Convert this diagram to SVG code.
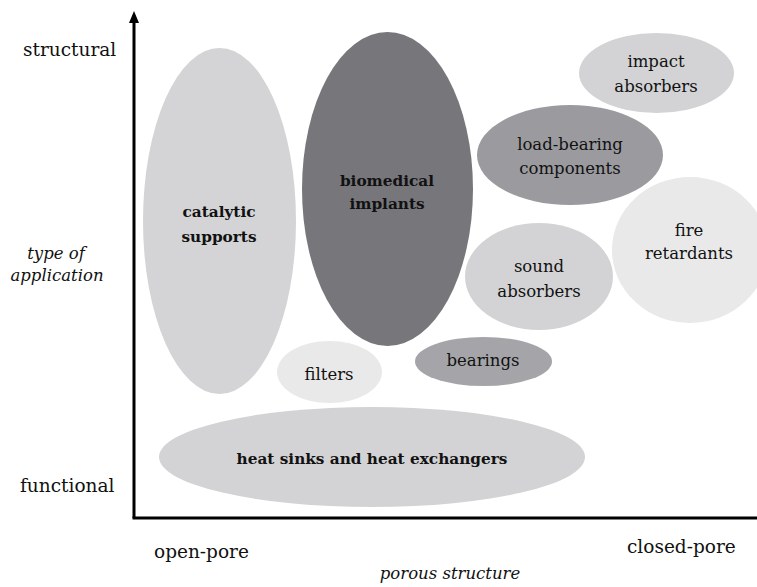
<svg xmlns="http://www.w3.org/2000/svg" width="757" height="587" viewBox="0 0 757 587">
<style>
text{font-family:"DejaVu Serif","Liberation Serif",serif;font-size:16.5px;fill:#111;text-anchor:middle}
.b{font-weight:bold;font-size:15.3px}
.i{font-style:italic}
.l{text-anchor:start}
.ax{font-size:18.5px}
.axis{stroke:#000;stroke-width:3;fill:none}
</style>
<rect width="757" height="587" fill="#fff"/>
<g id="heat-sinks"><ellipse cx="372" cy="457" rx="213" ry="50" fill="#d3d3d5"/><text class="b" x="372" y="464">heat sinks and heat exchangers</text></g>
<g id="catalytic"><ellipse cx="219.5" cy="221" rx="76.5" ry="173" fill="#d4d4d6"/><text class="b" x="219" y="217">catalytic</text><text class="b" x="219" y="242">supports</text></g>
<g id="biomedical"><ellipse cx="387.5" cy="189" rx="85.5" ry="157" fill="#77777b"/><text class="b" x="387" y="186">biomedical</text><text class="b" x="387" y="209">implants</text></g>
<g id="impact"><ellipse cx="656.5" cy="73" rx="77.5" ry="40" fill="#d3d3d5"/><text x="656" y="67">impact</text><text x="656" y="92">absorbers</text></g>
<g id="load-bearing"><ellipse cx="570" cy="155" rx="93" ry="50" fill="#9b9b9f"/><text x="570" y="150">load-bearing</text><text x="570" y="174">components</text></g>
<g id="fire"><ellipse cx="690" cy="250" rx="78" ry="73" fill="#e9e9ea"/><text x="689" y="236">fire</text><text x="689" y="259">retardants</text></g>
<g id="sound"><ellipse cx="539" cy="276.5" rx="74" ry="53.5" fill="#d3d3d5"/><text x="539" y="272">sound</text><text x="539" y="297">absorbers</text></g>
<g id="filters"><ellipse cx="329.5" cy="372" rx="52.5" ry="31" fill="#e9e9ea"/><text x="329" y="380">filters</text></g>
<g id="bearings"><ellipse cx="483.5" cy="361.5" rx="68.5" ry="24.5" fill="#a5a5a9"/><text x="483" y="366">bearings</text></g>
<g id="connectors">
<line class="axis" x1="134" y1="518" x2="134" y2="20"/>
<polygon points="129,23 134,11 139,23" fill="#000"/>
<line class="axis" x1="132.5" y1="518" x2="757" y2="518"/>
</g>
<g id="labels">
<text class="l ax" x="23" y="56">structural</text>
<text class="i" x="56" y="259">type of</text>
<text class="i" x="57" y="281">application</text>
<text class="l ax" x="20" y="492">functional</text>
<text class="l ax" x="154" y="558">open-pore</text>
<text class="l ax" x="627" y="553">closed-pore</text>
<text class="i" x="450" y="579">porous structure</text>
</g>
</svg>
